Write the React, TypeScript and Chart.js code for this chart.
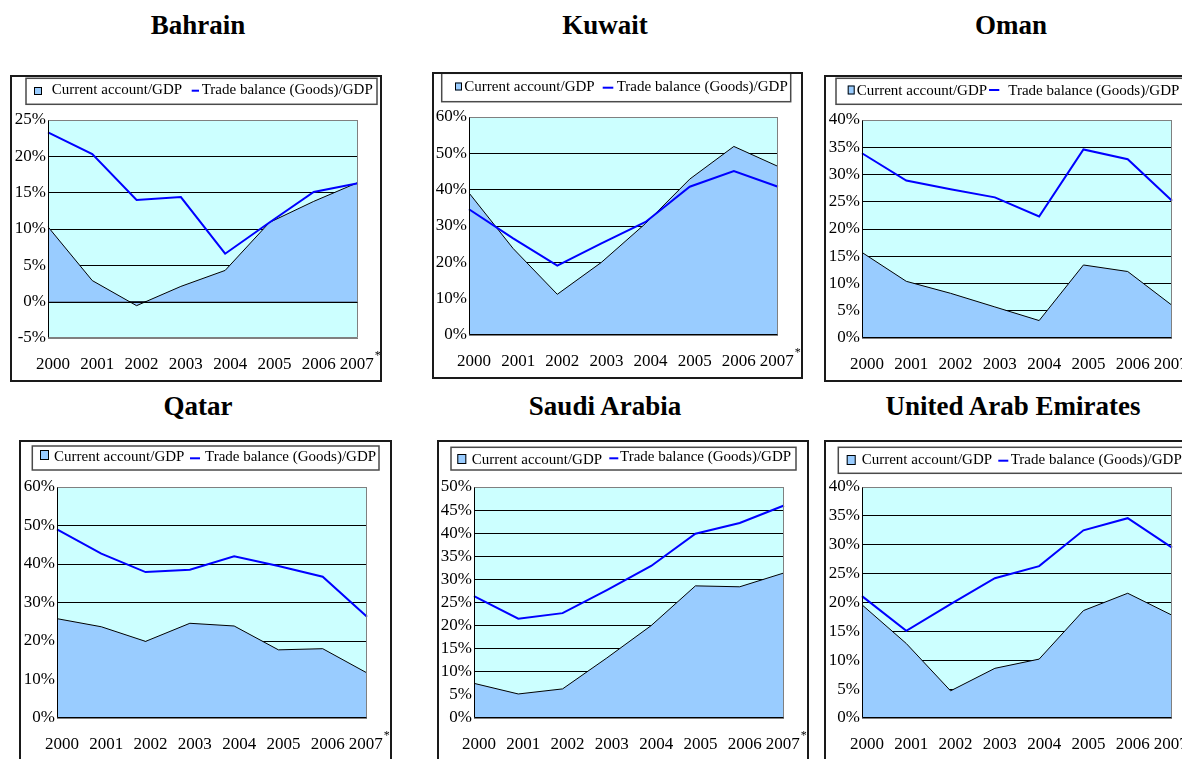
import React, { useEffect, useRef } from 'react';
import { Chart, registerables } from 'chart.js';

Chart.register(...registerables);

const FONT = '"Liberation Serif", "Times New Roman", serif';
Chart.defaults.font.family = FONT;
Chart.defaults.color = '#000';

// ---------- data ----------
const years = ['2000', '2001', '2002', '2003', '2004', '2005', '2006', '2007'];
const caLabel = 'Current account/GDP';
const tbLabel = 'Trade balance (Goods)/GDP';

const bahrainCA = [10.3, 2.9, -0.55, 2.1, 4.3, 10.9, 13.8, 16.4];
const bahrainTB = [23.3, 20.3, 14.0, 14.4, 6.6, 10.9, 15.1, 16.3];
const kuwaitCA = [39.1, 23.8, 11.2, 20.0, 30.7, 42.9, 51.9, 46.4];
const kuwaitTB = [34.6, 26.6, 19.1, 25.2, 31.1, 40.8, 45.1, 40.8];
const omanCA = [15.7, 10.4, 8.2, 5.7, 3.2, 13.4, 12.2, 6.0];
const omanTB = [33.9, 28.9, 27.3, 25.8, 22.3, 34.6, 32.8, 25.2];
const qatarCA = [25.8, 23.7, 19.9, 24.6, 23.9, 17.7, 18.0, 11.7];
const qatarTB = [49.0, 42.7, 37.9, 38.5, 42.0, 39.5, 36.7, 26.3];
const saudiCA = [7.5, 5.2, 6.3, 13.0, 20.0, 28.6, 28.4, 31.4];
const saudiTB = [26.4, 21.5, 22.7, 27.7, 32.9, 39.9, 42.2, 46.0];
const uaeCA = [19.6, 12.9, 4.7, 8.6, 10.2, 18.6, 21.6, 17.8];
const uaeTB = [21.1, 15.1, 19.7, 24.2, 26.3, 32.5, 34.6, 29.5];

// ---------- layout ----------
const Y_AXIS_W = 36;
const X_AXIS_H = 40;
const X_TICK_GAP = 16;
const LABEL_OFFSET = 5;
const LAST_PAD = '   ';

type Panel = {
  title: string;
  ca: number[];
  tb: number[];
  min: number;
  max: number;
  step: number;
  box: { x: number; y: number; w: number; h: number };
  plot: { l: number; t: number; r: number; b: number };
  titleCx: number;
  titleTop: number;
  legend: {
    rect: number[];
    marker: number[];
    t1x: number;
    line: number[];
    t2x: number;
    base: number[];
  };
};

const panels: Panel[] = [
  {
    title: 'Bahrain', ca: bahrainCA, tb: bahrainTB, min: -5, max: 25, step: 5,
    box: { x: 10, y: 75, w: 372, h: 307 }, plot: { l: 48, t: 120, r: 358, b: 338 },
    titleCx: 198, titleTop: 11.7,
    legend: { rect: [16, 3.3, 351, 26], marker: [24, 12, 8, 8], t1x: 41.7, line: [181.7, 189, 15.7], t2x: 191.7, base: [19.3, 19.3] },
  },
  {
    title: 'Kuwait', ca: kuwaitCA, tb: kuwaitTB, min: 0, max: 60, step: 10,
    box: { x: 432, y: 72, w: 371, h: 307 }, plot: { l: 469, t: 117, r: 778, b: 335 },
    titleCx: 605, titleTop: 11.7,
    legend: { rect: [9.7, 1.3, 349, 28.4], marker: [23, 10.5, 7, 8], t1x: 32.3, line: [170.7, 181.3, 15.7], t2x: 184.7, base: [18.7, 18.7] },
  },
  {
    title: 'Oman', ca: omanCA, tb: omanTB, min: 0, max: 40, step: 5,
    box: { x: 824, y: 75, w: 373, h: 307 }, plot: { l: 862, t: 120, r: 1172, b: 338 },
    titleCx: 1011, titleTop: 11.7,
    legend: { rect: [12, 3.3, 362, 26], marker: [23.7, 10.5, 7, 9], t1x: 32.7, line: [165, 175.3, 15], t2x: 184.3, base: [20, 20] },
  },
  {
    title: 'Qatar', ca: qatarCA, tb: qatarTB, min: 0, max: 60, step: 10,
    box: { x: 19, y: 440, w: 373, h: 330 }, plot: { l: 57, t: 487, r: 367, b: 718 },
    titleCx: 198, titleTop: 393.4,
    legend: { rect: [13.3, 6, 346.7, 24], marker: [21, 10, 9, 10], t1x: 35, line: [171, 181, 18.3], t2x: 186, base: [21, 21] },
  },
  {
    title: 'Saudi Arabia', ca: saudiCA, tb: saudiTB, min: 0, max: 50, step: 5,
    box: { x: 437, y: 440, w: 372, h: 330 }, plot: { l: 474, t: 487, r: 784, b: 718 },
    titleCx: 605, titleTop: 393.4,
    legend: { rect: [14, 7.3, 345, 22.7], marker: [20.3, 14, 9, 10], t1x: 34.7, line: [172.3, 181.3, 18.3], t2x: 183, base: [24, 20.7] },
  },
  {
    title: 'United Arab Emirates', ca: uaeCA, tb: uaeTB, min: 0, max: 40, step: 5,
    box: { x: 824, y: 440, w: 373, h: 330 }, plot: { l: 862, t: 487, r: 1172, b: 718 },
    titleCx: 1013, titleTop: 393.4,
    legend: { rect: [14.3, 7.3, 362, 26], marker: [22.7, 15, 9, 10], t1x: 37.7, line: [174.3, 184.3, 20.7], t2x: 186.7, base: [24, 24] },
  },
];

function makeDeco(p: Panel) {
  return {
    id: 'deco',
    beforeDraw(chart: any) {
      const { ctx, chartArea: a } = chart;
      ctx.save();
      ctx.fillStyle = '#CCFFFF';
      ctx.fillRect(a.left, a.top, a.right - a.left, a.bottom - a.top);
      ctx.restore();
    },
    afterDatasetsDraw(chart: any) {
      const { ctx, chartArea: a, scales } = chart;
      ctx.save();
      const top = Math.round(a.top) + 0.5;
      const bot = Math.round(a.bottom) - 0.5;
      const left = Math.round(a.left) + 0.5;
      const right = Math.round(a.right) - 0.5;
      // gray frame
      ctx.strokeStyle = '#808080';
      ctx.lineWidth = 1;
      ctx.beginPath();
      ctx.moveTo(left, top); ctx.lineTo(right, top); ctx.lineTo(right, bot); ctx.lineTo(left, bot);
      ctx.stroke();
      // zero line
      const y0 = Math.min(Math.round(scales.y.getPixelForValue(0)) + 0.5, bot);
      ctx.strokeStyle = '#000';
      ctx.beginPath();
      ctx.moveTo(left, y0); ctx.lineTo(right, y0);
      ctx.stroke();
      // left axis
      ctx.beginPath();
      ctx.moveTo(left, top); ctx.lineTo(left, bot);
      ctx.stroke();
      ctx.restore();
    },
    afterDraw(chart: any) {
      const { ctx, chartArea: a, scales } = chart;
      const L = p.legend;
      ctx.save();
      // legend frame
      ctx.strokeStyle = '#4a4a4a';
      ctx.lineWidth = 1.5;
      ctx.strokeRect(L.rect[0], L.rect[1], L.rect[2], L.rect[3]);
      // area marker
      ctx.fillStyle = '#99CCFF';
      ctx.fillRect(L.marker[0], L.marker[1], L.marker[2], L.marker[3]);
      ctx.strokeStyle = '#000';
      ctx.lineWidth = 1;
      ctx.strokeRect(L.marker[0] + 0.5, L.marker[1] + 0.5, L.marker[2] - 1, L.marker[3] - 1);
      // texts
      const ds = chart.data.datasets;
      ctx.fillStyle = '#000';
      ctx.font = `15px ${FONT}`;
      ctx.textAlign = 'left';
      ctx.textBaseline = 'alphabetic';
      ctx.fillText(ds[1].label, L.t1x, L.base[0]);
      // line marker
      ctx.strokeStyle = '#0000FF';
      ctx.lineWidth = 2;
      ctx.beginPath();
      ctx.moveTo(L.line[0], L.line[2]); ctx.lineTo(L.line[1], L.line[2]);
      ctx.stroke();
      ctx.fillText(ds[0].label, L.t2x, L.base[1]);
      // superscript asterisk on last year
      const xs = scales.x;
      const last = years.length - 1;
      const cx = xs.getPixelForTick(last) + LABEL_OFFSET;
      ctx.font = `17px ${FONT}`;
      const full = ctx.measureText(years[last] + LAST_PAD).width;
      const core = ctx.measureText(years[last]).width;
      const rightEdge = cx - full / 2 + core;
      ctx.font = `12px ${FONT}`;
      ctx.fillText('*', rightEdge + 1, a.bottom + 21);
      ctx.restore();
    },
  };
}

function PanelChart({ p }: { p: Panel }) {
  const ref = useRef<HTMLCanvasElement>(null);
  useEffect(() => {
    const canvas = ref.current!;
    const pad = {
      left: p.plot.l - p.box.x - Y_AXIS_W,
      top: p.plot.t - p.box.y,
      right: p.box.x + p.box.w - p.plot.r,
      bottom: p.box.y + p.box.h - p.plot.b - X_AXIS_H,
    };
    const chart = new Chart(canvas, {
      type: 'line',
      data: {
        labels: years,
        datasets: [
          {
            label: tbLabel, data: p.tb, borderColor: '#0000FF', borderWidth: 2,
            fill: false, pointRadius: 0, tension: 0, order: 1,
          },
          {
            label: caLabel, data: p.ca, borderColor: '#000000', borderWidth: 1,
            backgroundColor: '#99CCFF', fill: 'origin', pointRadius: 0, tension: 0, order: 2,
          },
        ],
      },
      options: {
        responsive: false,
        animation: false,
        devicePixelRatio: 1,
        layout: { padding: pad },
        plugins: { legend: { display: false }, tooltip: { enabled: false } },
        scales: {
          x: {
            grid: { display: false, drawTicks: true, tickLength: X_TICK_GAP },
            border: { display: false },
            ticks: {
              autoSkip: false, maxRotation: 0, minRotation: 0, padding: 0,
              labelOffset: LABEL_OFFSET, color: '#000', font: { size: 17 },
              callback: (_v: any, i: number) => (i === years.length - 1 ? years[i] + LAST_PAD : years[i]),
            },
            afterFit: (s: any) => { s.height = X_AXIS_H; },
          },
          y: {
            min: p.min, max: p.max,
            ticks: {
              stepSize: p.step, autoSkip: false, maxTicksLimit: 30, padding: 2, color: '#000', font: { size: 17 },
              callback: (v: any) => `${v}%`,
            },
            grid: {
              drawTicks: false, lineWidth: 1,
              color: (c: any) => (c.tick && (c.tick.value === p.min || c.tick.value === p.max) ? '#808080' : '#000000'),
            },
            border: { display: false },
            afterFit: (s: any) => { s.width = Y_AXIS_W; },
          },
        },
      } as any,
      plugins: [makeDeco(p)],
    });
    return () => chart.destroy();
  }, [p]);

  return (
    <div style={{ position: 'absolute', left: p.box.x, top: p.box.y, width: p.box.w, height: p.box.h }}>
      <canvas ref={ref} width={p.box.w} height={p.box.h} style={{ display: 'block', width: p.box.w, height: p.box.h }} />
      <div style={{ position: 'absolute', left: 0, top: 0, width: p.box.w, height: p.box.h, border: '2px solid #1a1a1a', boxSizing: 'border-box', pointerEvents: 'none' }} />
    </div>
  );
}

export default function App() {
  return (
    <div style={{ position: 'absolute', left: 0, top: 0, width: 1182, height: 759, overflow: 'hidden', background: '#fff' }}>
      {panels.map((p) => (
        <div key={p.title + 't'} style={{
          position: 'absolute', left: p.titleCx - 200, top: p.titleTop, width: 400, textAlign: 'center',
          fontFamily: FONT, fontWeight: 'bold', fontSize: 27, lineHeight: '27px', color: '#000', whiteSpace: 'nowrap',
        }}>{p.title}</div>
      ))}
      {panels.map((p) => <PanelChart key={p.title} p={p} />)}
    </div>
  );
}
